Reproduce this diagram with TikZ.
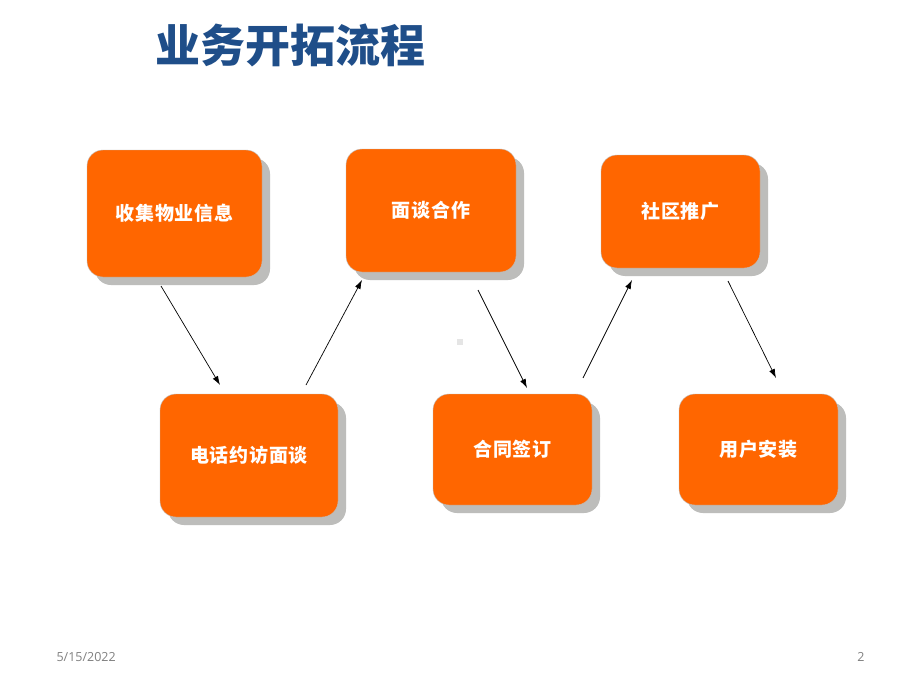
\documentclass[tikz,border=0pt]{standalone}
\usepackage{fontspec}
\setmainfont{Open Sans}
\newfontfamily\cjk{Noto Sans CJK SC}
\newfontfamily\cjkwide{Noto Sans CJK SC}[LetterSpace=4]
\usetikzlibrary{arrows.meta,shadows}
\definecolor{boxorange}{HTML}{FF6600}
\definecolor{titleblue}{HTML}{1F4E89}
\definecolor{shadowgray}{HTML}{BDBDBB}
\tikzset{
  flowbox/.style={draw=gray!50, line width=0.4pt, fill=boxorange, rounded corners=16pt,
    text=white, font=\cjkwide\bfseries\fontsize{19}{22}\selectfont,
    drop shadow={shadow xshift=8pt, shadow yshift=-8pt, fill=shadowgray, opacity=1}},
  flowarrow/.style={-{Latex[length=9pt,width=6pt]}, line width=0.7pt, black},
  foot/.style={text=gray, font=\fontsize{12.5}{15}\selectfont}
}
\begin{document}
\begin{tikzpicture}[x=1pt,y=-1pt]
\useasboundingbox (0,0) rectangle (920,690);
\fill[white] (0,0) rectangle (920,690);
\node[text=titleblue, font=\cjk\bfseries\fontsize{45}{50}\selectfont] (title) at (290,45) {业务开拓流程};

\node[flowbox, minimum width=175pt, minimum height=127pt] (b1) at (174.5,213.5) {收集物业信息};
\node[flowbox, minimum width=170pt, minimum height=123pt] (b2) at (431,210.5) {面谈合作};
\node[flowbox, minimum width=159pt, minimum height=113pt] (b3) at (680.5,211.5) {社区推广};
\node[flowbox, minimum width=178pt, minimum height=123pt] (b4) at (249,455.5) {电话约访面谈};
\node[flowbox, minimum width=159pt, minimum height=111pt] (b5) at (512.5,449.5) {合同签订};
\node[flowbox, minimum width=159pt, minimum height=111pt] (b6) at (758.5,449.5) {用户安装};

\coordinate (a1s) at (161,286); \coordinate (a1e) at (220,385);
\coordinate (a2s) at (306,385); \coordinate (a2e) at (362,280);
\coordinate (a3s) at (478,290); \coordinate (a3e) at (527,388);
\coordinate (a4s) at (583,378); \coordinate (a4e) at (632,280);
\coordinate (a5s) at (728,281); \coordinate (a5e) at (776,378);
\draw[flowarrow] (a1s) -- (a1e);
\draw[flowarrow] (a2s) -- (a2e);
\draw[flowarrow] (a3s) -- (a3e);
\draw[flowarrow] (a4s) -- (a4e);
\draw[flowarrow] (a5s) -- (a5e);

\fill[gray!20] (457,339) rectangle (463,345);

\node[foot, anchor=west] (date) at (53,657) {5/15/2022};
\node[foot] (page) at (861,657) {2};
\end{tikzpicture}
\end{document}
